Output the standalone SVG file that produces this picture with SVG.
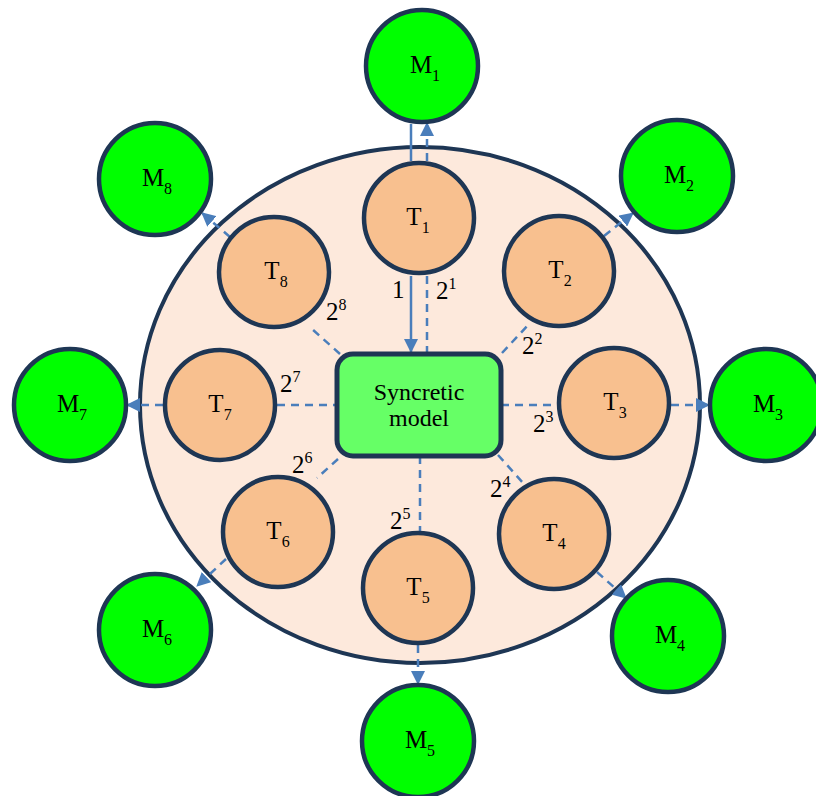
<svg xmlns="http://www.w3.org/2000/svg" width="816" height="796" viewBox="0 0 816 796">
  <style>
    .ring { fill: #fde9dc; stroke: #1e3654; stroke-width: 4; }
    .t { fill: #f8c08f; stroke: #1e3654; stroke-width: 4.5; }
    .m { fill: #00ff00; stroke: #1e3654; stroke-width: 4.5; }
    .core { fill: #66ff66; stroke: #1e3654; stroke-width: 5; }
    text { font-family: 'Liberation Serif', 'DejaVu Serif', serif; font-size: 25px; fill: #000; }
    tspan.sm { font-size: 16px; }
    .dash { stroke: #4a7ebb; stroke-width: 2.5; stroke-dasharray: 8 6; fill: none; }
    .solid { stroke: #4a7ebb; stroke-width: 2.5; fill: none; }
  </style>
  <defs>
    <marker id="arrow" markerUnits="userSpaceOnUse" markerWidth="14" markerHeight="14" viewBox="0 0 14 14" refX="13" refY="7" orient="auto">
      <path d="M0,0 L14,7 L0,14 Z" fill="#4a7ebb"/>
    </marker>
  </defs>

  <rect width="816" height="796" fill="#ffffff"/>

  <!-- outer region -->
  <ellipse class="ring" cx="420" cy="405" rx="280" ry="258"/>

  <!-- connectors -->
  <g id="connectors">
    <!-- T1 to syncretic model -->
    <line class="solid" x1="411" y1="276" x2="411" y2="352" marker-end="url(#arrow)"/>
    <line class="dash" x1="427" y1="276" x2="427" y2="352"/>
    <!-- T1 to M1 -->
    <line class="solid" x1="411" y1="161" x2="411" y2="124"/>
    <line class="dash" x1="427" y1="161" x2="427" y2="123" marker-end="url(#arrow)"/>
    <!-- model to T2..T8 -->
    <line class="dash" x1="502" y1="353" x2="530" y2="323"/>
    <line class="dash" x1="501" y1="405" x2="557" y2="405"/>
    <line class="dash" x1="498" y1="455" x2="524" y2="484"/>
    <line class="dash" x1="420" y1="456" x2="420" y2="531"/>
    <line class="dash" x1="338" y1="459" x2="317" y2="478"/>
    <line class="dash" x1="277" y1="405" x2="337" y2="405"/>
    <line class="dash" x1="340" y1="354" x2="312" y2="329"/>
    <!-- Tk to Mk -->
    <line class="dash" x1="604" y1="236" x2="633" y2="213" marker-end="url(#arrow)"/>
    <line class="dash" x1="671" y1="405" x2="709" y2="405" marker-end="url(#arrow)"/>
    <line class="dash" x1="597" y1="572" x2="626" y2="598" marker-end="url(#arrow)"/>
    <line class="dash" x1="418" y1="645" x2="418" y2="684" marker-end="url(#arrow)"/>
    <line class="dash" x1="226" y1="559" x2="197" y2="586" marker-end="url(#arrow)"/>
    <line class="dash" x1="163" y1="405" x2="127" y2="405" marker-end="url(#arrow)"/>
    <line class="dash" x1="230" y1="237" x2="202" y2="213" marker-end="url(#arrow)"/>
  </g>

  <!-- connector labels -->
  <g id="weights">
    <text x="392" y="298">1</text>
    <text x="436" y="299">2<tspan class="sm" dy="-10">1</tspan></text>
    <text x="522" y="354">2<tspan class="sm" dy="-10">2</tspan></text>
    <text x="533" y="432">2<tspan class="sm" dy="-10">3</tspan></text>
    <text x="490" y="497">2<tspan class="sm" dy="-10">4</tspan></text>
    <text x="390" y="529">2<tspan class="sm" dy="-10">5</tspan></text>
    <text x="292" y="473">2<tspan class="sm" dy="-10">6</tspan></text>
    <text x="280" y="392">2<tspan class="sm" dy="-10">7</tspan></text>
    <text x="326" y="320">2<tspan class="sm" dy="-10">8</tspan></text>
  </g>

  <!-- central model -->
  <g id="model">
    <rect class="core" x="337" y="354" width="164" height="102" rx="16"/>
    <text x="419" y="400" text-anchor="middle" style="font-size:24px">Syncretic</text>
    <text x="419" y="426" text-anchor="middle" style="font-size:24px">model</text>
  </g>

  <!-- tasks -->
  <g id="T1"><circle class="t" cx="419" cy="218" r="55"/><text x="418" y="225" text-anchor="middle">T<tspan class="sm" dy="8">1</tspan></text></g>
  <g id="T2"><circle class="t" cx="559" cy="271" r="55"/><text x="560" y="278" text-anchor="middle">T<tspan class="sm" dy="8">2</tspan></text></g>
  <g id="T3"><circle class="t" cx="614" cy="403" r="55"/><text x="615" y="410" text-anchor="middle">T<tspan class="sm" dy="8">3</tspan></text></g>
  <g id="T4"><circle class="t" cx="554" cy="534" r="55"/><text x="554" y="541" text-anchor="middle">T<tspan class="sm" dy="8">4</tspan></text></g>
  <g id="T5"><circle class="t" cx="418" cy="588" r="55"/><text x="418" y="595" text-anchor="middle">T<tspan class="sm" dy="8">5</tspan></text></g>
  <g id="T6"><circle class="t" cx="278" cy="532" r="55"/><text x="278" y="539" text-anchor="middle">T<tspan class="sm" dy="8">6</tspan></text></g>
  <g id="T7"><circle class="t" cx="220" cy="405" r="55"/><text x="220" y="412" text-anchor="middle">T<tspan class="sm" dy="8">7</tspan></text></g>
  <g id="T8"><circle class="t" cx="274" cy="272" r="55"/><text x="276" y="279" text-anchor="middle">T<tspan class="sm" dy="8">8</tspan></text></g>

  <!-- models -->
  <g id="M1"><circle class="m" cx="422" cy="66" r="56"/><text x="425" y="73" text-anchor="middle">M<tspan class="sm" dy="8">1</tspan></text></g>
  <g id="M2"><circle class="m" cx="677" cy="176" r="56"/><text x="679" y="183" text-anchor="middle">M<tspan class="sm" dy="8">2</tspan></text></g>
  <g id="M3"><circle class="m" cx="766" cy="405" r="56"/><text x="768" y="412" text-anchor="middle">M<tspan class="sm" dy="8">3</tspan></text></g>
  <g id="M4"><circle class="m" cx="668" cy="636" r="56"/><text x="670" y="643" text-anchor="middle">M<tspan class="sm" dy="8">4</tspan></text></g>
  <g id="M5"><circle class="m" cx="418" cy="741" r="56"/><text x="420" y="748" text-anchor="middle">M<tspan class="sm" dy="8">5</tspan></text></g>
  <g id="M6"><circle class="m" cx="155" cy="630" r="56"/><text x="157" y="637" text-anchor="middle">M<tspan class="sm" dy="8">6</tspan></text></g>
  <g id="M7"><circle class="m" cx="70" cy="405" r="56"/><text x="72" y="412" text-anchor="middle">M<tspan class="sm" dy="8">7</tspan></text></g>
  <g id="M8"><circle class="m" cx="155" cy="179" r="56"/><text x="157" y="186" text-anchor="middle">M<tspan class="sm" dy="8">8</tspan></text></g>
</svg>
